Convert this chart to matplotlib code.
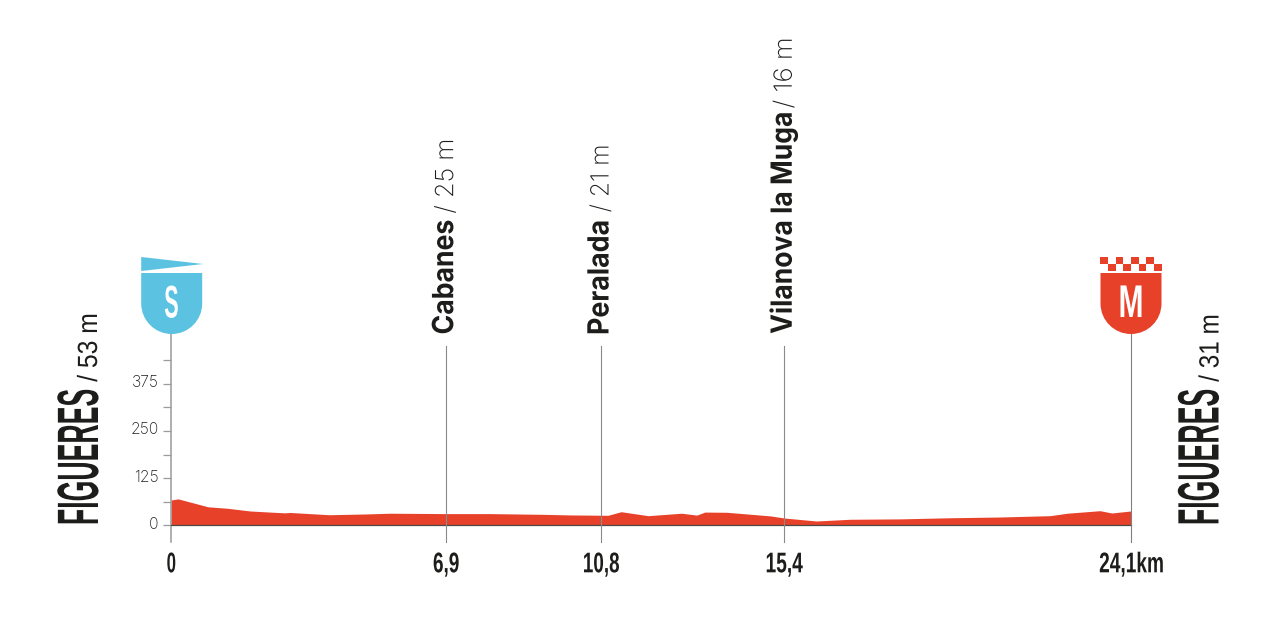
import matplotlib
matplotlib.use("Agg")
import matplotlib.pyplot as plt
from matplotlib.font_manager import FontProperties
from matplotlib.patches import PathPatch, Polygon, Rectangle
from matplotlib.path import Path
from matplotlib.text import Text
from matplotlib.textpath import TextPath
from matplotlib.transforms import Affine2D, Bbox

# ---- data ----
km = [0, 0.18, 0.93, 1.43, 1.74, 1.98, 2.49, 2.86, 2.99, 3.97, 4.87, 5.5, 6.9, 8.0, 9.39, 10.0,
      10.97, 11.3, 11.98, 12.82, 13.2, 13.4, 13.95, 15.04, 15.4, 16.2, 17.05, 18.3,
      19.56, 20.81, 22.07, 22.5, 23.32, 23.62, 24.1]
elev = [67, 70, 49, 45, 41, 38, 35, 33, 34, 28, 30, 32, 31, 31, 29, 27.5,
        26.5, 36, 25.5, 32, 27, 35, 34.5, 25, 19.3, 11.4, 16, 17,
        20, 22, 25.5, 32, 38.7, 32.6, 38]
major_ticks = [0, 125, 250, 375]
minor_ticks = [62.5, 187.5, 312.5, 437.5]
place_km = [6.9, 10.8, 15.4]
place_names = ["Cabanes", "Peralada", "Vilanova la Muga"]
place_alts = ["/ 25 m", "/ 21 m", "/ 16 m"]
place_name_len = [112.6, 111.7, 220]
place_alt_gap = [7.7, 9.9, 5.5]
place_alt_len = [72, 65, 68]
dist_km = [0, 6.9, 10.8, 15.4, 24.1]
dist_labels = ["0", "6,9", "10,8", "15,4", "24,1km"]
dist_len = [8, 25, 35, 36, 63]
start_name, start_alt = "FIGUERES", "/ 53 m"
end_name, end_alt = "FIGUERES", "/ 31 m"

RED = "#E8412A"
BLUE = "#5BC2E2"
INK = "#1D1D1B"
GREY = "#9A9A9A"

W, H = 1275, 618
fig = plt.figure(figsize=(W / 100, H / 100), dpi=100, facecolor="white")
ax = fig.add_axes([171 / W, (H - 541.7) / H, 960 / W, 207.7 / H])
ax.set_xlim(0, 24.1)
ax.set_ylim(-43.4, 506.6)
ax.patch.set_alpha(0)


class FittedText(Text):
    """Real text whose outlines are stretched across the text direction to reach a glyph height.

    The font size is the one at which the string naturally runs for `length` pixels;
    `height_size` is the size that gives the reference's glyph height.
    """

    def __init__(self, x, y, s, length, height_size, anchor=0.0, **kw):
        super().__init__(x, y, s, **kw)
        self._length = length
        self._anchor = anchor
        self._height_size = height_size
        w = TextPath((0, 0), s, size=height_size, prop=self.get_fontproperties()).get_extents().width
        self.set_fontsize(height_size * length / (w * 100 / 72))

    def _outline(self):
        size = self._height_size * 100 / 72
        tp = TextPath((0, 0), self.get_text(), size=size, prop=self.get_fontproperties())
        b = tp.get_extents()
        px, py = self.get_transform().transform(self.get_position())
        tr = (Affine2D().translate(-b.x0 - self._anchor * b.width, 0)
              .scale(self._length / b.width, 1)
              .rotate_deg(self.get_rotation())
              .translate(px, py))
        return tp, tr

    def draw(self, renderer):
        tp, tr = self._outline()
        p = PathPatch(tp, transform=tr, facecolor=self.get_color(), edgecolor="none", lw=0)
        p.set_figure(self.get_figure())
        p.draw(renderer)

    def get_window_extent(self, renderer=None, dpi=None):
        tp, tr = self._outline()
        return Bbox(tr.transform_path(tp).get_extents().get_points())


def label(x, y, s, length, dx, dy, cap, family, weight="normal", rot=0, anchor=0.0, color=INK):
    kw = dict(ha="right", va="bottom") if rot else dict(ha="center", va="baseline")
    t = FittedText(x, y, s, length, cap * 72 / 100 / 0.72, anchor=anchor, rotation=rot, color=color,
                   clip_on=False,
                   fontproperties=FontProperties(family=family, weight=weight),
                   transform=ax.transData + Affine2D().translate(dx, dy), **kw)
    ax.add_artist(t)
    return t


NARROW = ["Liberation Sans Narrow", "Liberation Sans"]
GROTESK = ["Inter", "Liberation Sans"]

# ---- profile ----
ax.fill_between(km, 0, elev, color=RED, lw=0, zorder=2)
ax.plot([0, 24.1], [0, 0], color="#4A4A48", lw=0.9, zorder=3, clip_on=False)

# ---- axis ----
for s in ("top", "right", "bottom"):
    ax.spines[s].set_visible(False)
ax.spines["left"].set_color(GREY)
ax.spines["left"].set_linewidth(1.1)
ax.set_xticks([])
ax.set_yticks(major_ticks)
ax.set_yticks(minor_ticks, minor=True)
ax.tick_params(axis="y", which="both", length=5.8, width=0.9, color=GREY, pad=3)
ax.set_yticklabels([str(v) for v in major_ticks], fontsize=11.3,
                   fontfamily=["Inter", "Liberation Sans"], color="#1D1D1B", fontweight="light")
for lab in ax.get_yticklabels():
    lab.set_transform(lab.get_transform() + Affine2D().translate(0, 2.5))

# ---- vertical markers ----
for k in place_km:
    ax.plot([k, k], [-43.4, 475], color="#8A8A8A", lw=0.8, zorder=4, clip_on=False)
ax.plot([24.1, 24.1], [-43.4, 506.6], color="#808080", lw=0.8, zorder=4, clip_on=False)

# ---- place labels ----
for k, n, a, nl, gap, al in zip(place_km, place_names, place_alts, place_name_len, place_alt_gap, place_alt_len):
    label(k, 475, n, nl, 7.3, 12.7, 21, GROTESK, "bold", rot=90)
    label(k, 475, a, al, 7.3, 12.7 + nl + gap, 18, GROTESK, "light", rot=90)

# ---- distance labels ----
for k, s, l in zip(dist_km, dist_labels, dist_len):
    label(k, 0, s, l, 0.3, -47, 20.5, NARROW, "bold", anchor=0.5)

# ---- end names ----
label(0, 0, start_name, 133.5, -73, 2, 42, NARROW, "bold", rot=90)
label(0, 0, start_alt, 67, -74, 143.5, 20, NARROW, "normal", rot=90)
label(24.1, 0, end_name, 133.5, 87.5, 2, 42, NARROW, "bold", rot=90)
label(24.1, 0, end_alt, 66, 87.5, 143.5, 20, NARROW, "normal", rot=90)


# ---- shields (drawn in pixels below the anchor at the top of the axis) ----
def px_transform(k, dx=0.0):
    x, y = ax.transData.transform((k, 506.6))
    return Affine2D().scale(1, -1).translate(x + dx, y)


def shield(k, color, dx=0.0):
    tr = px_transform(k, dx)
    r = 30.5
    c = 0.5523 * r
    verts = [(-r, -61), (r, -61), (r, -r), (r, -r + c), (c, 0), (0, 0), (-c, 0), (-r, -r + c), (-r, -r), (-r, -61)]
    codes = [Path.MOVETO, Path.LINETO, Path.LINETO, Path.CURVE4, Path.CURVE4, Path.CURVE4,
             Path.CURVE4, Path.CURVE4, Path.CURVE4, Path.CLOSEPOLY]
    ax.add_patch(PathPatch(Path(verts, codes), transform=tr, facecolor=color, edgecolor="none", clip_on=False, zorder=5))
    return tr


tr = shield(0, BLUE, 0.7)
ax.add_patch(Polygon([(-30.5, -77), (31.5, -70), (-30.5, -63)], closed=True, transform=tr,
                     facecolor=BLUE, edgecolor="none", clip_on=False, zorder=5))
tr = shield(24.1, RED)
for i in range(8):
    top = -77 if i % 2 == 0 else -70
    ax.add_patch(Rectangle((-30.7 + i * 7.67, top), 7.67, 7, transform=tr, facecolor=RED,
                           edgecolor="none", clip_on=False, zorder=5))

t1 = label(0, 506.6, "S", 13, 0.3, 16.5, 33, NARROW, "bold", anchor=0.5, color="white")
t2 = label(24.1, 506.6, "M", 21, 0, 17, 33, NARROW, "bold", anchor=0.5, color="white")
t1.set_zorder(6)
t2.set_zorder(6)

fig.savefig("out.png", dpi=100, facecolor="white")
